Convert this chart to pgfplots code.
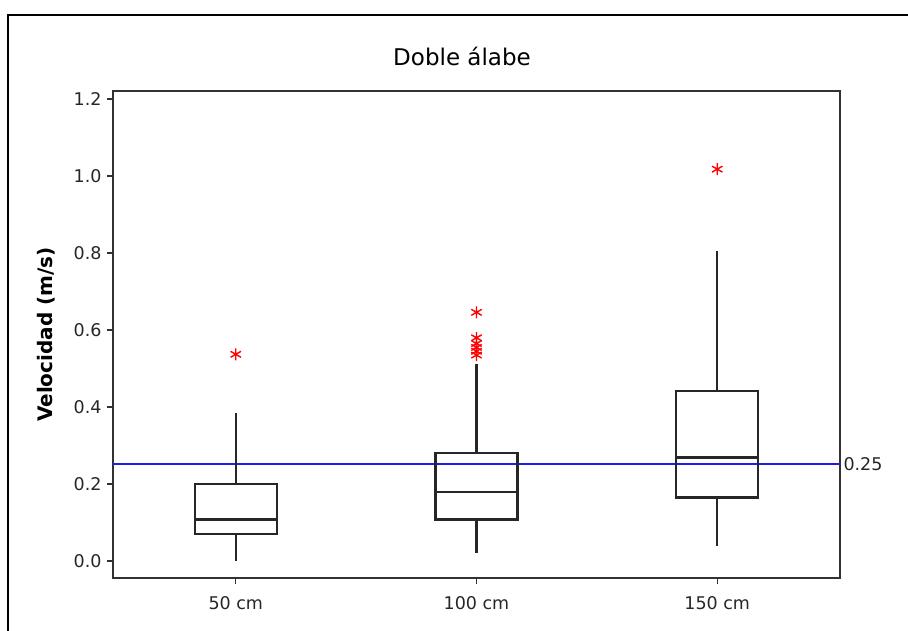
\documentclass[border=0pt]{standalone}
\usepackage{pgfplots}
\pgfplotsset{compat=1.18}
\usepgfplotslibrary{statistics}
\usepackage{fontspec}
\setmainfont{DejaVu Sans}
\definecolor{refline}{RGB}{30,30,235}
\definecolor{axgray}{RGB}{50,50,50}
\begin{document}
\begin{tikzpicture}
\useasboundingbox (0,0) rectangle (908pt,631pt);
\draw[line width=1.8pt, black] (8pt,0) -- (8pt,616pt) -- (908pt,616pt);
\begin{axis}[
  at={(113pt,53pt)}, anchor=south west,
  scale only axis, width=727pt, height=487pt,
  xmin=0.49, xmax=3.51, ymin=-0.044, ymax=1.221,
  axis line style={axgray, line width=1.6pt},
  tick style={axgray, line width=1.3pt},
  tick align=outside, major tick length=6pt,
  xtick pos=bottom, ytick pos=left,
  xtick={1,2,3}, xticklabels={50 cm,100 cm,150 cm},
  ytick={0,0.2,0.4,0.6,0.8,1.0,1.2},
  yticklabel style={/pgf/number format/fixed, /pgf/number format/fixed zerofill, /pgf/number format/precision=1, xshift=-2pt},
  /pgf/number format/assume math mode=true,
  ticklabel style={font=\fontsize{17.5}{20}\selectfont, text=black!85},
  xticklabel style={yshift=-9pt},
  title={Doble álabe},
  title style={font=\fontsize{23}{27}\selectfont, at={(0.5,1)}, anchor=center, yshift=29pt, xshift=-14.5pt},
  ylabel={Velocidad (m/s)},
  ylabel style={font=\bfseries\fontsize{20}{24}\selectfont, at={(axis description cs:-0.0922,0.5)}, anchor=center},
  boxplot/draw direction=y,
  boxplot/every box/.style={draw=black!85, line width=2.2pt},
  boxplot/every median/.style={draw=black!85, line width=2.2pt},
  boxplot/every whisker/.style={draw=black!85, line width=2.2pt},
  clip=false,
]
\addplot[draw=refline, line width=1.8pt] coordinates {(0.49,0.253) (3.51,0.253)};
\node[anchor=west, font=\fontsize{17.5}{20}\selectfont, text=black!85] at (axis cs:3.51,0.253) {0.25};
\addplot[draw=black!85, line width=2.2pt, boxplot prepared={lower whisker=0.0, lower quartile=0.071, median=0.108, upper quartile=0.200, upper whisker=0.385, draw position=1, box extend=0.34, whisker extend=0}] coordinates {};
\addplot[draw=black!85, line width=2.2pt, boxplot prepared={lower whisker=0.020, lower quartile=0.108, median=0.179, upper quartile=0.281, upper whisker=0.513, draw position=2, box extend=0.34, whisker extend=0}] coordinates {};
\addplot[draw=black!85, line width=2.2pt, boxplot prepared={lower whisker=0.040, lower quartile=0.165, median=0.269, upper quartile=0.442, upper whisker=0.806, draw position=3, box extend=0.34, whisker extend=0}] coordinates {};
\addplot[only marks, mark=asterisk, mark size=6pt, red, line width=1.4pt] coordinates {
  (1,0.537) (2,0.646) (2,0.580) (2,0.565) (2,0.555) (2,0.545) (2,0.535) (3,1.018)};
\end{axis}
\end{tikzpicture}
\end{document}
